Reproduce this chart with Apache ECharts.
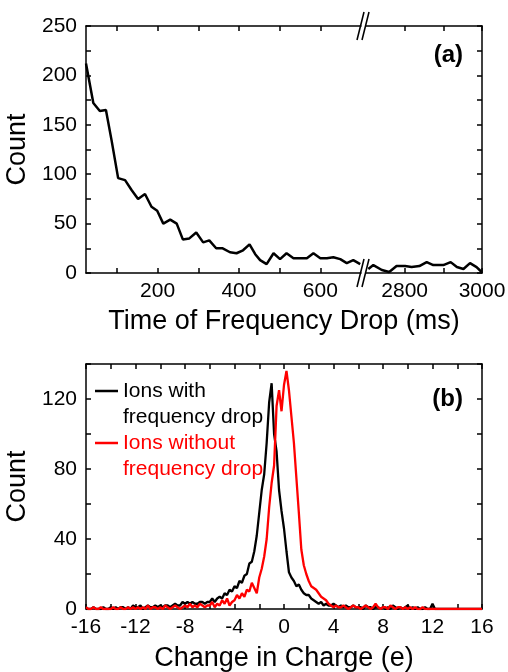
<!DOCTYPE html>
<html><head><meta charset="utf-8">
<script src="https://cdn.jsdelivr.net/npm/echarts@6/dist/echarts.min.js"></script>
<style>html,body{margin:0;padding:0;background:#fff}#c{width:508px;height:672px}</style>
</head><body><div id="c"></div>
<script>
// ---- Panel (a): frequency-drop times ----
const timeEarly = [24,42,58,73,87,103,120,136,152,169,185,199,214,231,247,262,278,295,312,327,344,360,378,394,410,426,440,452,468,485,501,517,534,550,567,583,600,616,632,649,665,681,698];
const countEarly = [212,172,164,165,134,96,94,84,75,80,67,63,50,54,50,34,35,41,31,33,25,25,21,20,23,29,19,13,9,20,14,20,15,15,15,20,15,15,16,14,10,13,9];
const timeLate = [2706,2719,2741,2760,2779,2801,2818,2838,2857,2874,2900,2919,2935,2952,2969,2986,2999];
const countLate = [4,8,3,1,7,7,6,7,11,8,8,11,6,4,10,6,1];
const earlyTicks = [100,200,300,400,500,600];
const earlyLabels = [200,400,600];
const lateTicks = [2800,2900,3000];
const lateLabels = [2800,3000];

// ---- Panel (b): change in charge histogram (bins of 0.2 e from -16) ----
const chargeStart = -16, chargeStep = 0.2;
const withDrop = [
 0,0,0,1,0,0,0,1,0,0,
 1,0,1,0,1,1,0,1,0,2,
 1,1,2,0,1,2,1,1,2,1,
 2,1,2,2,1,2,3,2,2,4,
 3,4,3,4,3,3,4,4,3,4,
 4,6,4,6,7,6,9,8,11,10,
 13,12,16,15,19,20,26,27,33,42,
 55,68,77,95,118,129,100,90,68,56,
 46,33,21,18,16,13,14,11,9,8,
 8,6,5,4,3,4,2,3,2,2,
 3,2,1,2,1,2,1,1,2,1,
 1,1,0,2,1,1,0,1,1,0,
 1,0,1,0,2,1,0,1,0,1,
 2,0,1,0,1,0,0,1,0,0,
 3,0,0,0,0,0,0,0,0,0,
 0,0,0,0,0,0,0,0,0,0,
 0];
const withoutDrop = [
 1,0,0,1,0,0,1,0,0,0,
 0,1,0,0,1,0,0,1,0,1,
 0,1,0,1,0,2,0,1,1,0,
 1,0,2,1,0,1,2,1,0,1,
 2,1,3,1,2,1,3,2,1,2,
 2,4,1,3,2,5,3,6,2,4,
 5,8,6,9,7,11,10,15,12,9,
 18,23,30,40,58,72,82,116,125,113,
 128,136,125,110,95,75,55,34,25,20,
 16,13,12,11,9,7,6,5,3,2,
 1,2,1,1,2,1,0,1,2,1,
 1,0,1,2,1,0,1,3,1,0,
 1,1,0,2,1,0,1,1,0,1,
 0,1,0,1,0,0,1,0,0,0,
 0,0,0,0,0,0,0,0,0,0,
 0,0,0,0,0,0,0,0,0,0,
 0];

const FONT = "'Liberation Sans', Arial, Helvetica, sans-serif";
const AX = '#000';
const pairs = (xs, ys) => xs.map((x, i) => [x, ys[i]]);
const binPairs = ys => ys.map((v, i) => [+(chargeStart + i * chargeStep).toFixed(1), v]);

const G0 = {left:86, top:26, width:275, height:247};
const G1 = {left:366, top:26, width:116, height:247};
const G2 = {left:86, top:364, width:396, height:245};

function xAxis(grid, pos, min, max, ticks, labels, extra) {
  const a = {
    type:'value', gridIndex:grid, position:pos, min:min, max:max,
    splitLine:{show:false},
    axisLine:{show:true, onZero:false, lineStyle:{color:AX, width:1.5}},
    axisTick:{show:true, inside:true, length:5, lineStyle:{color:AX, width:1.5}},
    axisLabel:{show:pos==='bottom', color:'#000', fontFamily:FONT, fontSize:21, margin:8, formatter: v => String(v)}
  };
  if (ticks) { a.axisTick.customValues = ticks; a.axisLabel.customValues = labels; }
  return Object.assign(a, extra || {});
}
function yAxis(grid, pos, min, max, interval, labelEvery, extra) {
  return Object.assign({
    type:'value', gridIndex:grid, position:pos, min:min, max:max, interval:interval,
    splitLine:{show:false},
    axisLine:{show:true, onZero:false, lineStyle:{color:AX, width:1.5}},
    axisTick:{show:true, inside:true, length:5, lineStyle:{color:AX, width:1.5}},
    axisLabel:{show:pos==='left', color:'#000', fontFamily:FONT, fontSize:21, margin:9,
      formatter: v => (v % labelEvery === 0 ? String(v) : '')}
  }, extra || {});
}
const countName = {name:'Count', nameLocation:'middle', nameGap:42, nameTextStyle:{color:'#000', fontFamily:FONT, fontSize:27}};

const chart = echarts.init(document.getElementById('c'), null, {renderer:'canvas'});
const brk = (x, y) => ({type:'line', shape:{x1:x, y1:y+14, x2:x+7, y2:y-14}, style:{stroke:'#000', lineWidth:1.5}, silent:true});
const bx = G0.left + G0.width - 4;
chart.setOption({
  backgroundColor:'#fff',
  animation:false,
  grid:[Object.assign({outerBoundsMode:'none'}, G0), Object.assign({outerBoundsMode:'none'}, G1), Object.assign({outerBoundsMode:'none'}, G2)],
  xAxis:[
    xAxis(0,'bottom',24,700,earlyTicks,earlyLabels),
    xAxis(0,'top',24,700,earlyTicks,earlyLabels),
    xAxis(1,'bottom',2700,3000,lateTicks,lateLabels),
    xAxis(1,'top',2700,3000,lateTicks,lateLabels),
    Object.assign(xAxis(2,'bottom',-16,16), {interval:2, axisLabel:{color:'#000', fontFamily:FONT, fontSize:21, margin:8, formatter: v => (v % 4 === 0 ? String(v) : '')},
      name:'Change in Charge (e)', nameLocation:'middle', nameGap:36, nameTextStyle:{color:'#000', fontFamily:FONT, fontSize:27}}),
    Object.assign(xAxis(2,'top',-16,16), {interval:2})
  ],
  yAxis:[
    yAxis(0,'left',0,250,25,50,countName),
    yAxis(1,'right',0,250,25,50),
    yAxis(2,'left',0,140,20,40,countName),
    yAxis(2,'right',0,140,20,40)
  ],
  legend:{
    orient:'vertical', left:95, top:352, padding:0, itemGap:-26, itemWidth:23, itemHeight:2.5, icon:'rect',
    formatter: name => '\n' + name,
    data:[{name:'Ions with\nfrequency drop', textStyle:{color:'#000'}}, {name:'Ions without\nfrequency drop', textStyle:{color:'#ff0000'}}],
    textStyle:{fontFamily:FONT, fontSize:21, lineHeight:26}
  },
  graphic:[
    {type:'text', x:284, y:308, style:{text:'Time of Frequency Drop (ms)', fill:'#000', fontFamily:FONT, fontSize:27, align:'center', verticalAlign:'top'}},
    {type:'text', x:463, y:55, style:{text:'(a)', fill:'#000', fontFamily:FONT, fontSize:24, fontWeight:'bold', align:'right', verticalAlign:'middle'}},
    {type:'text', x:463, y:399, style:{text:'(b)', fill:'#000', fontFamily:FONT, fontSize:24, fontWeight:'bold', align:'right', verticalAlign:'middle'}},
    brk(bx, G0.top), brk(bx+5, G0.top),
    brk(bx, G0.top+G0.height), brk(bx+5, G0.top+G0.height)
  ],
  series:[
    {type:'line', name:'early', xAxisIndex:0, yAxisIndex:0, data:pairs(timeEarly,countEarly), showSymbol:false, symbol:'none', lineStyle:{color:'#000', width:2.5}, itemStyle:{color:'#000'}},
    {type:'line', name:'late', xAxisIndex:2, yAxisIndex:1, data:pairs(timeLate,countLate), showSymbol:false, symbol:'none', lineStyle:{color:'#000', width:2.5}, itemStyle:{color:'#000'}},
    {type:'line', name:'Ions with\nfrequency drop', xAxisIndex:4, yAxisIndex:2, data:binPairs(withDrop), showSymbol:false, symbol:'none', lineStyle:{color:'#000', width:2.3}, itemStyle:{color:'#000'}},
    {type:'line', name:'Ions without\nfrequency drop', xAxisIndex:4, yAxisIndex:2, data:binPairs(withoutDrop), showSymbol:false, symbol:'none', lineStyle:{color:'#ff0000', width:2.3}, itemStyle:{color:'#ff0000'}}
  ]
});
</script></body></html>
